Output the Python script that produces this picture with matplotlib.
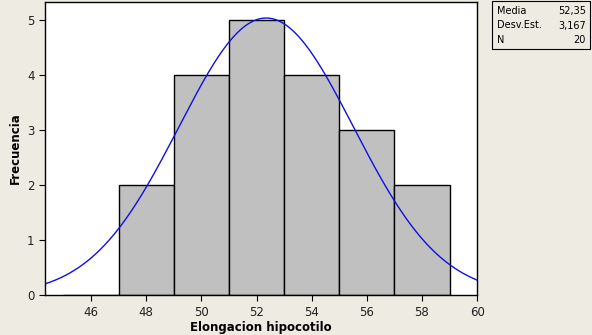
import numpy as np
import matplotlib.pyplot as plt
from matplotlib.patches import Rectangle

# histogram data
bin_edges = [45, 47, 49, 51, 53, 55, 57, 59]
counts = [0, 2, 4, 5, 4, 3, 2]
media, desv, n = 52.35, 3.167, 20
xticks = [46, 48, 50, 52, 54, 56, 58, 60]
yticks = [0, 1, 2, 3, 4, 5]

bg = "#eeebe2"
fig = plt.figure(figsize=(5.92, 3.35), dpi=100, facecolor=bg)
ax = fig.add_axes([0.076, 0.119, 0.730, 0.875])

lefts = np.array(bin_edges[:-1])
widths = np.diff(bin_edges)
ax.bar(lefts, counts, width=widths, align="edge", color="#c0c0c0",
       edgecolor="black", linewidth=1.0)

# fitted normal curve, scaled to counts
bw = widths[0]
xs = np.linspace(44.33, 60, 400)
ys = n * bw / (desv * np.sqrt(2 * np.pi)) * np.exp(-0.5 * ((xs - media) / desv) ** 2)
ax.plot(xs, ys, color="#1010e0", lw=1.0)

ax.set_xlim(44.33, 60)
ax.set_ylim(0, 5.33)
ax.set_xticks(xticks)
ax.set_yticks(yticks)
ax.tick_params(labelsize=8.5, length=4, color="black", labelcolor="#222222")
ax.set_xlabel("Elongacion hipocotilo", fontsize=8.5, fontweight="bold", labelpad=2)
ax.set_ylabel("Frecuencia", fontsize=8.5, fontweight="bold", labelpad=4)
for s in ax.spines.values():
    s.set_linewidth(1.0)

# stats box
fig.patches.append(Rectangle((492 / 592, 1 - 49 / 335), 98 / 592, 48 / 335,
                             transform=fig.transFigure, fill=False, ec="black", lw=0.8))
rows = [("Media", "52,35"), ("Desv.Est.", "3,167"), ("N", "20")]
for i, (k, v) in enumerate(rows):
    y = 1 - (11 + 14.5 * i) / 335
    fig.text(497 / 592, y, k, fontsize=7, va="center", ha="left")
    fig.text(586 / 592, y, v, fontsize=7, va="center", ha="right")

fig.savefig("out.png", facecolor=bg)
